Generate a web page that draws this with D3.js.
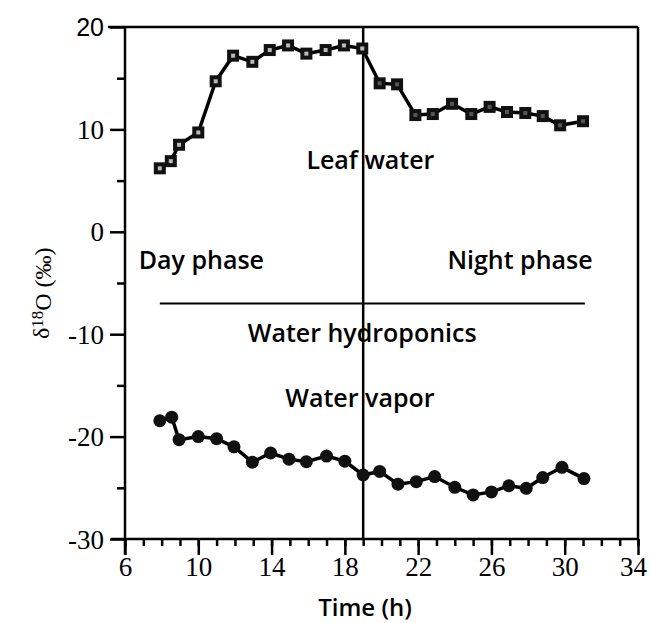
<!DOCTYPE html>
<html>
<head>
<meta charset="utf-8">
<script src="https://cdn.jsdelivr.net/npm/d3@7"></script>
<style>
  body { margin: 0; background: #fff; }
  .note { font-family: "Open Sans", sans-serif; font-weight: 600; font-size: 25px; }
</style>
</head>
<body>
<svg id="chart" width="650" height="623"></svg>
<script>
// leaf water (squares)
const leafTime = [7.9, 8.5, 8.95, 10.0, 10.95, 11.9, 12.95, 13.9, 14.9, 15.9, 16.95, 17.95, 18.95,
                  19.9, 20.85, 21.85, 22.8, 23.85, 24.9, 25.9, 26.85, 27.85, 28.8, 29.75, 31.0];
const leafD18O = [6.2, 6.9, 8.5, 9.7, 14.7, 17.2, 16.6, 17.75, 18.2, 17.4, 17.75, 18.2, 17.9,
                  14.5, 14.4, 11.4, 11.5, 12.5, 11.5, 12.2, 11.7, 11.6, 11.3, 10.4, 10.8];

// water vapor (circles)
const vaporTime = [7.9, 8.55, 8.95, 10.0, 11.0, 11.95, 12.95, 13.95, 14.95, 15.9, 17.0, 18.0, 19.0,
                   19.9, 20.9, 21.9, 22.9, 24.0, 25.0, 26.0, 26.95, 27.9, 28.8, 29.85, 31.05];
const vaporD18O = [-18.45, -18.1, -20.3, -20.0, -20.2, -21.0, -22.5, -21.6, -22.2, -22.45, -21.9, -22.4, -23.75,
                   -23.4, -24.65, -24.4, -23.9, -24.95, -25.7, -25.4, -24.8, -25.05, -24.0, -23.0, -24.1];

// water hydroponics (flat line)
const hydroTime = [7.9, 31.1];
const hydroD18O = [-7, -7];

const xTicks = [6, 10, 14, 18, 22, 26, 30, 34];
const yTicks = [-30, -20, -10, 0, 10, 20];
const phaseSplit = 19;

const svg = d3.select("#chart");
const margin = {top: 27, right: 12, bottom: 84, left: 125};
const width = 650 - margin.left - margin.right;
const height = 623 - margin.top - margin.bottom;

const x = d3.scaleLinear().domain([6, 34]).range([margin.left, margin.left + width]);
const y = d3.scaleLinear().domain([-30, 20]).range([margin.top + height, margin.top]);

const leaf = leafTime.map((t, i) => ({t: t, v: leafD18O[i]}));
const vapor = vaporTime.map((t, i) => ({t: t, v: vaporD18O[i]}));
const hydro = hydroTime.map((t, i) => ({t: t, v: hydroD18O[i]}));

const serif = "Liberation Serif, DejaVu Serif, serif";
const plain = d => String(d);

// frame: top and right edges
svg.append("line")
    .attr("x1", margin.left - 17).attr("x2", x(34))
    .attr("y1", y(20)).attr("y2", y(20))
    .attr("stroke", "black").attr("stroke-width", 2.5);
svg.append("line")
    .attr("x1", x(34)).attr("x2", x(34))
    .attr("y1", y(20)).attr("y2", y(-30))
    .attr("stroke", "black").attr("stroke-width", 2.5);

// x axis, minor ticks every hour, labelled every 4
const xAxisG = svg.append("g")
    .attr("transform", `translate(0,${y(-30)})`);
xAxisG.call(d3.axisBottom(x).tickValues(d3.range(6, 35, 1)).tickSize(7).tickFormat(""))
    .call(g => g.select(".domain").remove())
    .selectAll("line").attr("stroke-width", 2.5);
const xLab = xAxisG.append("g");
xLab.call(d3.axisBottom(x).tickValues(xTicks).tickSize(16).tickPadding(2).tickFormat(plain));
xLab.attr("font-family", serif).attr("font-size", 27);
xLab.select(".domain").remove();
xLab.selectAll("line").attr("stroke-width", 2.5);
xLab.selectAll("text").attr("fill", "black");
// keep the last label inside the page
xLab.selectAll(".tick text").filter(d => d === 34).attr("dx", -5);
xAxisG.append("line")
    .attr("x1", margin.left - 14).attr("x2", x(34))
    .attr("stroke", "black").attr("stroke-width", 2.5);

// y axis
const yAxisG = svg.append("g")
    .attr("transform", `translate(${margin.left},0)`);
yAxisG.call(d3.axisLeft(y).tickValues(d3.range(-25, 20, 10)).tickSize(8).tickFormat(""))
    .call(g => g.select(".domain").remove())
    .selectAll("line").attr("stroke-width", 2.5);
const yLabG = yAxisG.append("g");
yLabG.call(d3.axisLeft(y).tickValues(yTicks).tickSize(15).tickPadding(6).tickFormat(plain));
yLabG.attr("font-family", serif).attr("font-size", 27);
yLabG.select(".domain").remove();
yLabG.selectAll("line").attr("stroke-width", 2.5);
yLabG.selectAll("text").attr("fill", "black").attr("dy", "0.34em");
// the top label is set in a sans face in the original
yLabG.selectAll(".tick text").filter(d => d === 20)
    .attr("font-family", "Liberation Sans, Arial, sans-serif")
    .attr("font-size", 25);
yAxisG.append("line")
    .attr("y1", y(20)).attr("y2", y(-30) + 16)
    .attr("stroke", "black").attr("stroke-width", 2.5);

// day / night split
svg.append("line")
    .attr("x1", x(phaseSplit)).attr("x2", x(phaseSplit))
    .attr("y1", y(20)).attr("y2", y(-30))
    .attr("stroke", "black").attr("stroke-width", 2.5);

const line = d3.line().x(d => x(d.t)).y(d => y(d.v));

svg.append("path").datum(hydro)
    .attr("d", line).attr("fill", "none")
    .attr("stroke", "black").attr("stroke-width", 2);

svg.append("path").datum(leaf)
    .attr("d", line).attr("fill", "none")
    .attr("stroke", "black").attr("stroke-width", 3.5);

svg.append("path").datum(vapor)
    .attr("d", line).attr("fill", "none")
    .attr("stroke", "black").attr("stroke-width", 3.5);

const sq = 12;
svg.selectAll(".leafpt")
    .data(leaf)
    .enter()
    .append("rect")
    .attr("class", "leafpt")
    .attr("x", d => x(d.t) - sq / 2)
    .attr("y", d => y(d.v) - sq / 2)
    .attr("width", sq).attr("height", sq)
    .attr("fill", "#111");
svg.selectAll(".leafdot")
    .data(leaf)
    .enter()
    .append("rect")
    .attr("class", "leafdot")
    .attr("x", d => x(d.t) - 2)
    .attr("y", d => y(d.v) - 2)
    .attr("width", 4).attr("height", 4)
    .attr("fill", d => d.t < phaseSplit + 0.5 ? "#bbb" : "#555");

svg.selectAll(".vaporpt")
    .data(vapor)
    .enter()
    .append("circle")
    .attr("class", "vaporpt")
    .attr("cx", d => x(d.t))
    .attr("cy", d => y(d.v))
    .attr("r", 6.5)
    .attr("fill", "#111");

// annotations
const notes = [
    {text: "Leaf water", t: 15.9, v: 6.1},
    {text: "Day phase", t: 6.75, v: -3.6},
    {text: "Night phase", t: 23.6, v: -3.6},
    {text: "Water hydroponics", t: 12.7, v: -10.8},
    {text: "Water vapor", t: 14.75, v: -17.1}
];
svg.selectAll(".note")
    .data(notes)
    .enter()
    .append("text")
    .attr("class", "note")
    .attr("x", d => x(d.t))
    .attr("y", d => y(d.v))
    .text(d => d.text);

svg.append("text")
    .attr("class", "note")
    .attr("x", x(19.1))
    .attr("y", 616)
    .attr("text-anchor", "middle")
    .style("font-size", "24px")
    .text("Time (h)");

// y label: δ18O (‰)
const yLab = svg.append("text")
    .attr("transform", `translate(49,${y(-6)}) rotate(-90)`)
    .attr("text-anchor", "middle")
    .attr("font-family", serif)
    .attr("font-size", 24);
yLab.append("tspan").text("δ");
yLab.append("tspan").attr("dy", "-0.35em").attr("font-size", 17).text("18");
yLab.append("tspan").attr("dy", "0.35em").text("O (‰)");
</script>
</body>
</html>
